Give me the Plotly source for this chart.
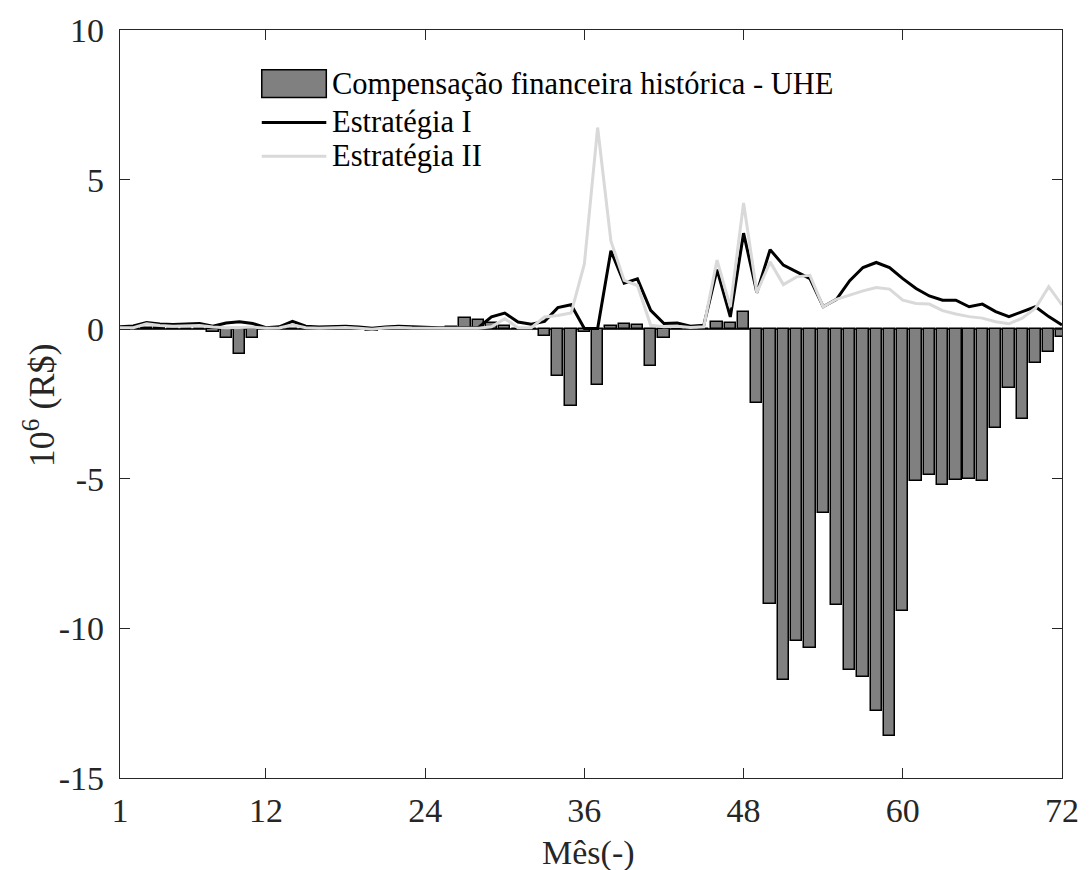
import plotly.graph_objects as go

# Month index 1..72
meses = list(range(1, 73))

# Historical financial compensation of the hydro plant (10^6 R$)
compensacao_uhe = [
    0.00, 0.03, 0.05, 0.03, 0.02, 0.00, 0.00, -0.11, -0.28, -0.84,
    -0.31, 0.00, 0.00, 0.00, 0.00, 0.00, 0.00, 0.00, 0.00, -0.05,
    0.00, 0.00, 0.00, 0.00, 0.00, 0.06, 0.38, 0.30, 0.21, 0.10,
    0.00, 0.00, -0.23, -1.58, -2.55, -0.10, -1.87, 0.10, 0.17, 0.14,
    -1.23, -0.28, 0.00, 0.00, 0.00, 0.24, 0.20, 0.58, -2.47, -9.19,
    -11.72, -10.41, -10.65, -6.13, -9.23, -11.38, -11.64, -12.75, -13.61, -9.43,
    -5.09, -4.86, -5.21, -5.05, -5.01, -5.07, -3.29, -1.97, -3.01, -1.13,
    -0.76, -0.27,
]

# Strategy I result (10^6 R$)
estrategia_1 = [
    0.08, 0.11, 0.22, 0.17, 0.16, 0.17, 0.19, 0.10, 0.21, 0.25,
    0.19, 0.05, 0.08, 0.26, 0.10, 0.07, 0.08, 0.10, 0.07, 0.03,
    0.07, 0.10, 0.08, 0.06, 0.05, 0.05, 0.05, 0.05, 0.41, 0.54,
    0.24, 0.17, 0.26, 0.72, 0.82, 0.02, 0.02, 2.62, 1.54, 1.68,
    0.63, 0.19, 0.21, 0.10, 0.13, 1.99, 0.41, 3.21, 1.22, 2.66,
    2.14, 1.92, 1.69, 0.75, 1.00, 1.62, 2.06, 2.23, 2.06, 1.69,
    1.36, 1.11, 0.97, 0.97, 0.75, 0.84, 0.59, 0.42, 0.59, 0.75,
    0.42, 0.14,
]

# Strategy II result (10^6 R$)
estrategia_2 = [
    0.05, 0.05, 0.18, 0.12, 0.10, 0.10, 0.12, 0.07, 0.05, 0.06,
    0.07, 0.03, 0.04, 0.15, 0.05, 0.03, 0.05, 0.06, 0.03, 0.00,
    0.04, 0.06, 0.04, 0.03, 0.03, 0.03, 0.03, 0.03, 0.08, 0.35,
    0.05, 0.05, 0.41, 0.46, 0.54, 2.18, 6.74, 2.95, 1.63, 1.46,
    0.13, 0.08, 0.10, 0.06, 0.08, 2.31, 0.74, 4.22, 1.22, 2.25,
    1.49, 1.75, 1.80, 0.75, 1.00, 1.14, 1.28, 1.39, 1.34, 0.97,
    0.86, 0.84, 0.62, 0.51, 0.42, 0.37, 0.25, 0.18, 0.37, 0.70,
    1.42, 0.81,
]

x_ticks = [1, 12, 24, 36, 48, 60, 72]
y_ticks = [-15, -10, -5, 0, 5, 10]

nomes = [
    "Compensação financeira histórica - UHE",
    "Estratégia I",
    "Estratégia II",
]

FONT = "Liberation Serif"
AXIS_COLOR = "#262626"
BAR_FILL = "#808080"
COR_I = "#000000"
COR_II = "#d9d9d9"

fig = go.Figure()

fig.add_trace(go.Bar(
    x=meses, y=compensacao_uhe, name=nomes[0], width=0.85,
    marker=dict(color=BAR_FILL, line=dict(color="#000000", width=1.5)),
    showlegend=False,
))
fig.add_trace(go.Scatter(
    x=meses, y=estrategia_1, name=nomes[1], mode="lines",
    line=dict(color=COR_I, width=3), showlegend=False,
))
fig.add_trace(go.Scatter(
    x=meses, y=estrategia_2, name=nomes[2], mode="lines",
    line=dict(color=COR_II, width=3), showlegend=False,
))

axis_common = dict(
    showline=True, linecolor=AXIS_COLOR, linewidth=1.3, mirror="ticks",
    ticks="inside", ticklen=10, tickwidth=1.3, tickcolor=AXIS_COLOR,
    showgrid=False, tickfont=dict(family=FONT, size=34, color="#262626"),
)

fig.update_xaxes(
    range=[1, 72], tickmode="array", tickvals=x_ticks,
    ticktext=[str(v) for v in x_ticks], zeroline=False,
    ticklabelstandoff=2,
    **axis_common,
)
fig.update_yaxes(
    range=[-15, 10], tickmode="array", tickvals=y_ticks,
    ticktext=[str(v) for v in y_ticks],
    zeroline=True, zerolinecolor="#333333", zerolinewidth=1.5,
    ticklabelstandoff=8,
    **axis_common,
)

# Legend block drawn inside the axes
leg_x0, leg_x1, leg_text_x = 0.1505, 0.219, 0.223
row_y = [0.9283, 0.8765, 0.8313]
shapes = [
    dict(type="rect", xref="paper", yref="paper", x0=leg_x0, x1=leg_x1,
         y0=row_y[0] - 0.0185, y1=row_y[0] + 0.0185,
         fillcolor=BAR_FILL, line=dict(color="#000000", width=1.5)),
    dict(type="line", xref="paper", yref="paper", x0=leg_x0, x1=leg_x1,
         y0=row_y[1], y1=row_y[1], line=dict(color=COR_I, width=3)),
    dict(type="line", xref="paper", yref="paper", x0=leg_x0, x1=leg_x1,
         y0=row_y[2], y1=row_y[2], line=dict(color=COR_II, width=3)),
]
annotations = [
    dict(x=leg_text_x, y=yy, xref="paper", yref="paper", text=t,
         xanchor="left", yanchor="middle", showarrow=False,
         font=dict(family=FONT, size=30.5, color="#000000"))
    for t, yy in zip(nomes, row_y)
]
# Axis titles
annotations.append(dict(
    x=-0.0853, y=0.498, xref="paper", yref="paper",
    text="10<sup>6</sup> (R$)", textangle=-90, showarrow=False,
    xanchor="center", yanchor="middle",
    font=dict(family=FONT, size=36, color="#262626"),
))
annotations.append(dict(
    x=0.497, y=-0.100, xref="paper", yref="paper",
    text="Mês(-)", showarrow=False,
    xanchor="center", yanchor="middle",
    font=dict(family=FONT, size=34, color="#262626"),
))

fig.update_layout(
    width=1091, height=870,
    margin=dict(l=120, r=21, t=25, b=92),
    paper_bgcolor="white", plot_bgcolor="white",
    bargap=0, barmode="overlay",
    shapes=shapes, annotations=annotations,
    font=dict(family=FONT),
)

fig.write_html("out.html")
